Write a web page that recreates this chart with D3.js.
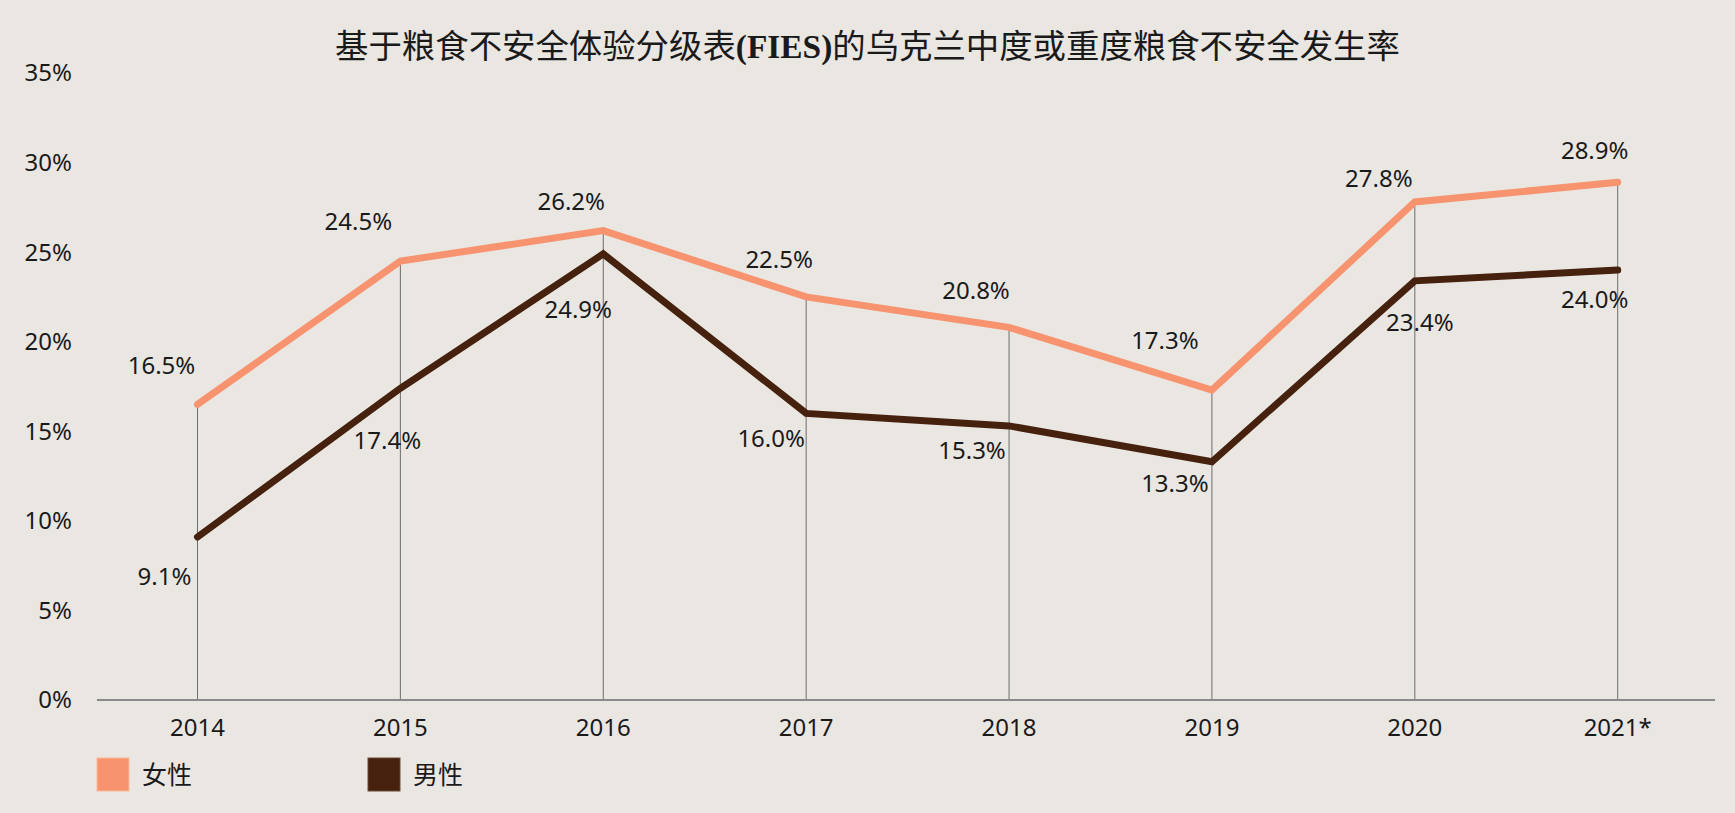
<!DOCTYPE html>
<html>
<head>
<meta charset="utf-8">
<script src="https://cdn.jsdelivr.net/npm/d3@7"></script>
<style>
  html, body { margin: 0; padding: 0; background: #eae6e2; }
  svg { display: block; }
</style>
</head>
<body>
<svg id="chart" width="1735" height="813"></svg>
<script>
// ---- data ----
const years = ["2014", "2015", "2016", "2017", "2018", "2019", "2020", "2021*"];
const women = [16.5, 24.5, 26.2, 22.5, 20.8, 17.3, 27.8, 28.9];
const men   = [9.1, 17.4, 24.9, 16.0, 15.3, 13.3, 23.4, 24.0];
const yTicks = [0, 5, 10, 15, 20, 25, 30, 35];
const seriesNames = ["女性", "男性"];
const titleParts = ["基于粮食不安全体验分级表", "(FIES)", "的乌克兰中度或重度粮食不安全发生率"];

// ---- label nudges (layout only) ----
const womenNudge = [[-36,-39],[-42,-40],[-32,-29],[-27,-37],[-33,-37],[-47,-49],[-36,-23],[-23,-32]];
const menNudge   = [[-33,40],[-13,52],[-25,56],[-35,25],[-37,25],[-37,22],[5,42],[-23,30]];

const colors = { women: "#f7946f", men: "#45210e" };
const W = 1735, H = 813;
const svg = d3.select("#chart");

const x = d3.scalePoint().domain(years).range([197.5, 1617.7]);
const y = d3.scaleLinear().domain([0, 35]).range([700, 73]);

const numFont = "'Noto Sans', 'Open Sans', sans-serif";
const cjkFont = "'Noto Sans CJK SC', 'Noto Sans', sans-serif";

// title
const title = svg.append("text")
  .attr("x", W / 2).attr("y", 58)
  .attr("text-anchor", "middle")
  .attr("font-family", cjkFont)
  .attr("font-size", 33.4)
  .attr("font-weight", 400)
  .attr("fill", "#1a1a1a");
title.append("tspan").text(titleParts[0]);
title.append("tspan").attr("font-family", "'Liberation Serif', 'DejaVu Serif', serif").attr("font-weight", 700).text(titleParts[1]);
title.append("tspan").text(titleParts[2]);

// y axis labels
svg.append("g").selectAll("text").data(yTicks).join("text")
  .attr("x", 72).attr("y", d => y(d))
  .attr("dy", "0.35em")
  .attr("text-anchor", "end")
  .attr("font-family", numFont).attr("font-size", 24)
  .attr("fill", "#1a1a1a")
  .text(d => d + "%");

// drop lines from top point to axis
svg.append("g").selectAll("line").data(years).join("line")
  .attr("x1", d => x(d)).attr("x2", d => x(d))
  .attr("y1", (d, i) => y(Math.max(women[i], men[i])))
  .attr("y2", y(0))
  .attr("stroke", "#6e6e6e").attr("stroke-width", 1);

// x axis baseline
svg.append("line")
  .attr("x1", 97).attr("x2", 1715)
  .attr("y1", y(0)).attr("y2", y(0))
  .attr("stroke", "#8a8a8a").attr("stroke-width", 2);

// x labels
svg.append("g").selectAll("text").data(years).join("text")
  .attr("x", d => x(d)).attr("y", 728)
  .attr("dy", "0.35em")
  .attr("text-anchor", "middle")
  .attr("font-family", numFont).attr("font-size", 24)
  .attr("fill", "#1a1a1a")
  .text(d => d);

// lines
const line = d3.line().x((d, i) => x(years[i])).y(d => y(d));
[[women, colors.women], [men, colors.men]].forEach(([vals, c]) => {
  svg.append("path")
    .attr("d", line(vals))
    .attr("fill", "none")
    .attr("stroke", c)
    .attr("stroke-width", 7)
    .attr("stroke-linejoin", "miter")
    .attr("stroke-linecap", "round");
});

// value labels
function addLabels(vals, nudge) {
  svg.append("g").selectAll("text").data(vals).join("text")
    .attr("x", (d, i) => x(years[i]) + nudge[i][0])
    .attr("y", (d, i) => y(d) + nudge[i][1])
    .attr("dy", "0.35em")
    .attr("text-anchor", "middle")
    .attr("font-family", numFont).attr("font-size", 24)
    .attr("fill", "#1a1a1a")
    .text(d => d.toFixed(1) + "%");
}
addLabels(women, womenNudge);
addLabels(men, menNudge);

// legend
const legendX = [97, 368];
const legendColors = [colors.women, colors.men];
const lg = svg.append("g").selectAll("g").data(seriesNames).join("g")
  .attr("transform", (d, i) => `translate(${legendX[i]},758)`);
lg.append("rect")
  .attr("width", 32).attr("height", 33)
  .attr("fill", (d, i) => legendColors[i])
  .attr("stroke", (d, i) => i === 0 ? "#fbb89c" : "#6b4a38")
  .attr("stroke-width", 1);
lg.append("text")
  .attr("x", 45).attr("y", 17)
  .attr("dy", "0.35em")
  .attr("font-family", cjkFont).attr("font-size", 25)
  .attr("fill", "#1a1a1a")
  .text(d => d);
</script>
</body>
</html>
